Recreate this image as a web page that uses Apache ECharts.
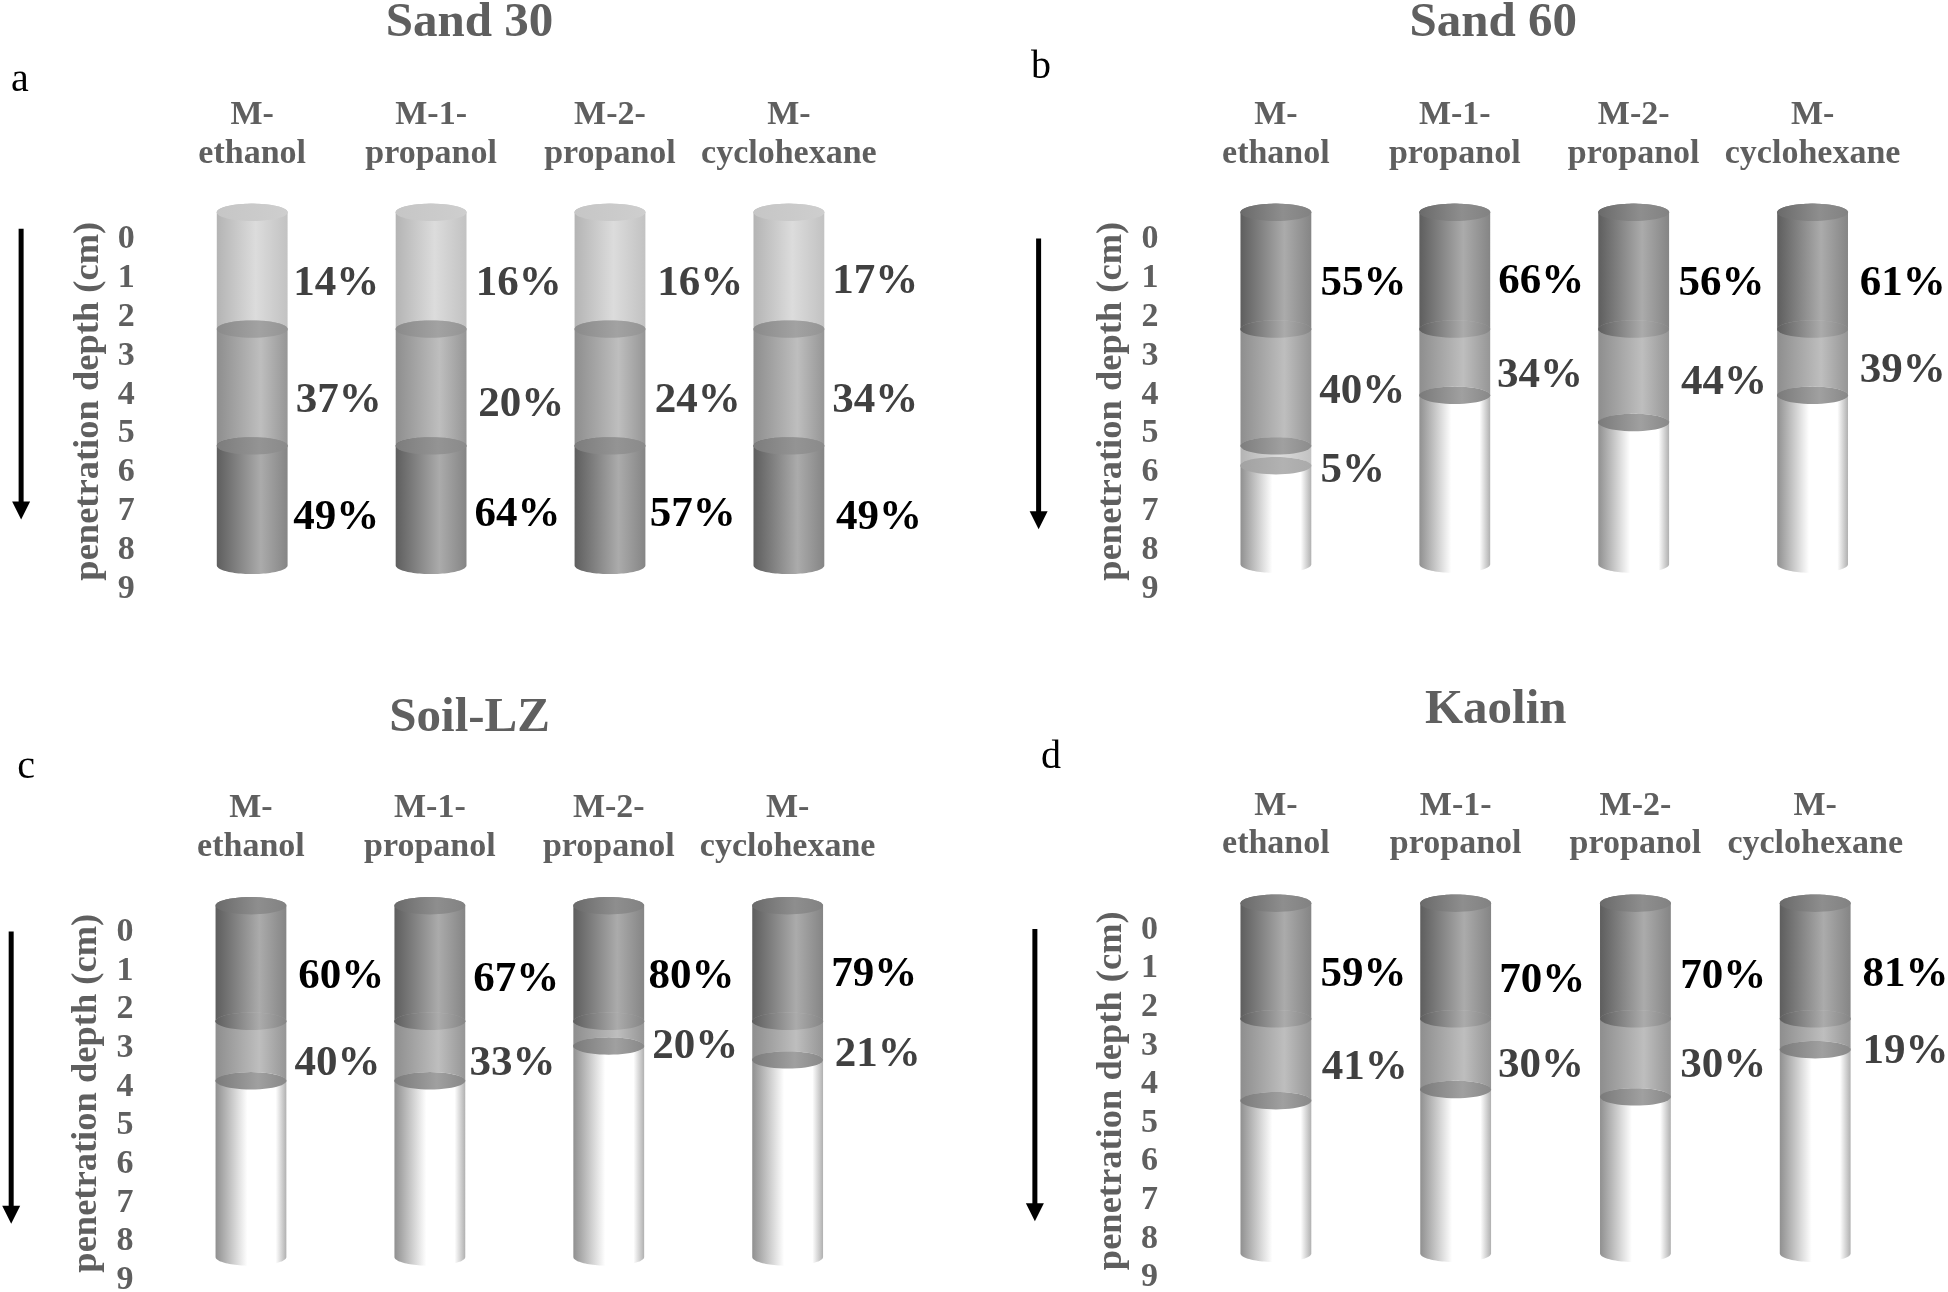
<!DOCTYPE html>
<html><head><meta charset="utf-8">
<script src="https://cdn.jsdelivr.net/npm/echarts@6/dist/echarts.min.js"></script>
<style>html,body{margin:0;padding:0;background:#fff}#c{width:1948px;height:1292px}</style>
</head><body><div id="c"></div>
<script>
// ---------- data (depths in cm) ----------
const methods = ['M-\nethanol', 'M-1-\npropanol', 'M-2-\npropanol', 'M-\ncyclohexane'];
const depthTicks = [0,1,2,3,4,5,6,7,8,9];
const panelTitles = ['Sand 30', 'Sand 60', 'Soil-LZ', 'Kaolin'];
const panelLetters = ['a', 'b', 'c', 'd'];

const sand30Layers = ['light', 'mid', 'dark'];
const soilLayers = ['dark', 'mid', 'white'];
const sand60EthanolLayers = ['dark', 'mid', 'light', 'white'];

const sand30Depths = [[-0.61,2.39,5.39,8.46],[-0.61,2.39,5.39,8.46],[-0.61,2.39,5.39,8.46],[-0.61,2.39,5.39,8.46]];
const sand60Depths = [[-0.61,2.39,5.39,5.90,8.43],[-0.61,2.39,4.09,8.43],[-0.61,2.39,4.79,8.43],[-0.61,2.39,4.09,8.43]];
const soilLZDepths = [[-0.61,2.38,3.92,8.48],[-0.61,2.38,3.92,8.48],[-0.61,2.38,3.02,8.48],[-0.61,2.38,3.38,8.48]];
const kaolinDepths = [[-0.61,2.38,4.50,8.45],[-0.61,2.38,4.21,8.45],[-0.61,2.38,4.40,8.45],[-0.61,2.38,3.18,8.45]];

const sand30Pct = [[14,37,49],[16,20,64],[16,24,57],[17,34,49]];
const sand60Pct = [[55,40,5],[66,34],[56,44],[61,39]];
const soilLZPct = [[60,40],[67,33],[80,20],[79,21]];
const kaolinPct = [[59,41],[70,30],[70,30],[81,19]];

// where each percentage text sits on the depth scale
const sand30PctDepth = [[1.18,4.18,7.18],[1.18,4.28,7.12],[1.18,4.18,7.12],[1.12,4.18,7.18]];
const sand60PctDepth = [[1.18,3.96,5.97],[1.12,3.54],[1.18,3.73],[1.18,3.42]];
const soilLZPctDepth = [[1.19,3.44],[1.25,3.44],[1.19,2.99],[1.13,3.21]];
const kaolinPctDepth = [[1.19,3.60],[1.35,3.54],[1.25,3.54],[1.19,3.18]];

// ---------- layout ----------
const S = 1948 / 1568;
const panelLayout = [
  {c0:203,  step:144,   d0:190, d9:472,  tx:378,  ty:19,  lx:16,  ly:65,  arrowX:17,  arrow:[-0.19,7.28],
   depths:sand30Depths, pct:sand30Pct, pctDepth:sand30PctDepth,
   pctX:[[33,35,33],[36,38,35],[38,36,32],[35,35,38]]},
  {c0:1027, step:144,   d0:190, d9:472,  tx:1202, ty:19,  lx:838, ly:54,  arrowX:836, arrow:[0.06,7.53],
   depths:sand60Depths, pct:sand60Pct, pctDepth:sand60PctDepth,
   pctX:[[36,35,36],[35,34],[36,38],[38,38]]},
  {c0:202,  step:144,   d0:748, d9:1028, tx:378,  ty:578, lx:21,  ly:618, arrowX:9,   arrow:[0.06,7.62],
   depths:soilLZDepths, pct:soilLZPct, pctDepth:soilLZPctDepth,
   pctX:[[38,35],[35,32],[32,35],[35,38]]},
  {c0:1027, step:144.7, d0:746, d9:1026, tx:1204, ty:572, lx:846, ly:610, arrowX:833, arrow:[0.06,7.62],
   depths:kaolinDepths, pct:kaolinPct, pctDepth:kaolinPctDepth,
   pctX:[[36,37],[35,34],[36,36],[38,38]]}
];
const HALF = 28.5 * S, RY = 7 * S;
const GREY = '#5f5f5f', SERIF = '"Liberation Serif"';

const grad = stops => new echarts.graphic.LinearGradient(0,0,1,0,
  stops.map(s => ({offset:s[0], color:s[1]})));
const bodyFill = {
  light: () => grad([[0,'#b4b4b4'],[0.55,'#dcdcdc'],[1,'#c2c2c2']]),
  mid:   () => grad([[0,'#8e8e8e'],[0.62,'#bebebe'],[1,'#969696']]),
  dark:  () => grad([[0,'#5e5e5e'],[0.62,'#ababab'],[1,'#858585']]),
  white: () => grad([[0,'#909090'],[0.45,'#ffffff'],[0.85,'#ffffff'],[1,'#b0b0b0']])
};
function capFill(prev, cur) {
  if (prev === null) return cur === 'light' ? () => grad([[0,'#c6c6c6'],[1,'#cecece']])
                                            : () => grad([[0,'#6a6a6a'],[0.6,'#8e8e8e'],[1,'#828282']]);
  if (cur === 'mid' && prev === 'dark') return bodyFill.dark;
  if (cur === 'mid') return () => grad([[0,'#8a8a8a'],[0.6,'#a2a2a2'],[1,'#949494']]);
  if (cur === 'dark') return () => grad([[0,'#7c7c7c'],[0.6,'#949494'],[1,'#8a8a8a']]);
  if (cur === 'light') return () => grad([[0,'#7e7e7e'],[0.6,'#a0a0a0'],[1,'#8c8c8c']]);
  if (prev === 'light') return () => grad([[0,'#a2a2a2'],[0.6,'#b2b2b2'],[1,'#aaaaaa']]);
  return () => grad([[0,'#7a7a7a'],[0.6,'#a0a0a0'],[1,'#888888']]);
}
function arc(cx, cy, from, to) {
  const pts = [];
  for (let i = 0; i <= 48; i++) {
    const t = from + (to - from) * i / 48;
    pts.push([cx + HALF * Math.cos(t), cy + RY * Math.sin(t)]);
  }
  return pts;
}
function layersOf(panelIdx, catIdx) {
  if (panelIdx === 0) return sand30Layers;
  if (panelIdx === 1 && catIdx === 0) return sand60EthanolLayers;
  return soilLayers;
}
function cylinderRender(panelIdx) {
  return function (params, api) {
    const cat = params.dataIndex;
    const depths = panelLayout[panelIdx].depths[cat];
    const layers = layersOf(panelIdx, cat);
    const children = [];
    const cx = api.coord([cat, 0])[0];
    layers.forEach((m, i) => {
      const yTop = api.coord([cat, depths[i]])[1];
      const yNext = api.coord([cat, depths[i + 1]])[1];
      const pts = arc(cx, yTop, Math.PI, 2 * Math.PI).concat(arc(cx, yNext, 0, Math.PI));
      children.push({type:'polygon', shape:{points:pts}, style:{fill:bodyFill[m]()}, silent:true});
      children.push({type:'polygon', shape:{points:arc(cx, yTop, 0, 2 * Math.PI)},
        style:{fill:capFill(i ? layers[i - 1] : null, m)()}, silent:true});
    });
    return {type:'group', children};
  };
}
function pctRender(panelIdx) {
  return function (params, api) {
    const cat = api.value(0), row = api.value(3);
    const p = api.coord([cat, api.value(1)]);
    const m = layersOf(panelIdx, cat)[row];
    return {type:'text', silent:true, x:p[0] + panelLayout[panelIdx].pctX[cat][row] * S, y:p[1] + 2,
      style:{text:api.value(2) + '%', fill:m === 'dark' ? '#000000' : '#404040',
        font:'bold 43px ' + SERIF, textAlign:'left', textVerticalAlign:'middle'}};
  };
}
function arrowRender(panelIdx) {
  const L = panelLayout[panelIdx];
  return function (params, api) {
    const x = L.arrowX * S;
    const y1 = api.coord([0, api.value(0)])[1], y2 = api.coord([0, api.value(1)])[1];
    return {type:'group', silent:true, children:[
      {type:'rect', shape:{x:x - 2.5, y:y1, width:5, height:y2 - y1 - 16}, style:{fill:'#000'}},
      {type:'polygon', shape:{points:[[x - 9, y2 - 18],[x + 9, y2 - 18],[x, y2]]}, style:{fill:'#000'}}
    ]};
  };
}

const grid = [], xAxis = [], yAxis = [], series = [], title = [];
panelLayout.forEach((L, k) => {
  const left = (L.c0 - L.step / 2) * S;
  grid.push({left, width:L.step * 4 * S, top:L.d0 * S, height:(L.d9 - L.d0) * S, containLabel:false, outerBoundsMode:'none'});
  xAxis.push({type:'category', gridIndex:k, position:'top', data:methods,
    axisLine:{show:false}, axisTick:{show:false}, splitLine:{show:false},
    axisLabel:{interval:0, margin:63, lineHeight:38.5, color:GREY, fontFamily:SERIF, fontWeight:'bold', fontSize:34, verticalAlign:'bottom'}});
  yAxis.push({type:'value', gridIndex:k, inverse:true, min:0, max:9, interval:1,
    axisLine:{show:false}, axisTick:{show:false}, splitLine:{show:false},
    axisLabel:{margin:28, verticalAlign:'top', lineHeight:6, color:GREY, fontFamily:SERIF, fontWeight:'bold', fontSize:34,
      customValues:depthTicks},
    name:'penetration depth (cm)', nameLocation:'middle', nameRotate:90, nameGap:56,
    nameTextStyle:{color:GREY, fontFamily:SERIF, fontWeight:'bold', fontSize:36.5, padding:[0,0,0,20]}});
  series.push({type:'custom', name:panelTitles[k] + ' columns', xAxisIndex:k, yAxisIndex:k, silent:true, clip:false,
    renderItem:cylinderRender(k), encode:{x:0, y:1},
    data:L.depths.map((d, i) => [i, d[0], d[d.length - 1]])});
  const pctData = [];
  L.pct.forEach((vals, i) => vals.forEach((v, r) => pctData.push([i, L.pctDepth[i][r], v, r])));
  series.push({type:'custom', name:panelTitles[k] + ' shares', xAxisIndex:k, yAxisIndex:k, silent:true, clip:false, z:5,
    renderItem:pctRender(k), encode:{x:0, y:1}, data:pctData});
  series.push({type:'custom', name:panelTitles[k] + ' arrow', xAxisIndex:k, yAxisIndex:k, silent:true, clip:false,
    renderItem:arrowRender(k), encode:{y:[0,1]}, data:[L.arrow]});
  title.push({text:panelTitles[k], left:L.tx * S, top:L.ty * S, textAlign:'center', textVerticalAlign:'middle',
    textStyle:{color:GREY, fontFamily:SERIF, fontWeight:'bold', fontSize:49}, padding:0});
  title.push({text:panelLetters[k], left:L.lx * S, top:L.ly * S, textAlign:'center', textVerticalAlign:'middle',
    textStyle:{color:'#000', fontFamily:SERIF, fontWeight:'normal', fontSize:40}, padding:0});
});

const chart = echarts.init(document.getElementById('c'), null, {renderer:'canvas'});
chart.setOption({backgroundColor:'#ffffff', animation:false, tooltip:{show:false}, legend:{show:false},
  title, grid, xAxis, yAxis, series});
</script></body></html>
